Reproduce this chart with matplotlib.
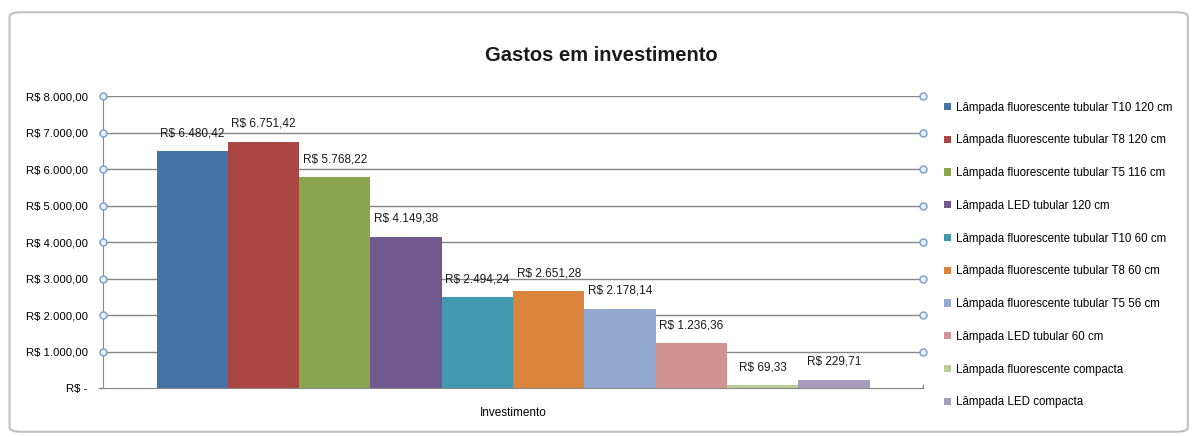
import matplotlib.pyplot as plt
from matplotlib.patches import FancyBboxPatch
import numpy as np

plt.rcParams['font.family'] = ['Liberation Sans', 'DejaVu Sans']

# dados
lampadas = ['Lâmpada fluorescente tubular T10 120 cm',
            'Lâmpada fluorescente tubular T8 120 cm',
            'Lâmpada fluorescente tubular T5 116 cm',
            'Lâmpada LED tubular 120 cm',
            'Lâmpada fluorescente tubular T10 60 cm',
            'Lâmpada fluorescente tubular T8 60 cm',
            'Lâmpada fluorescente tubular T5 56 cm',
            'Lâmpada LED tubular 60 cm',
            'Lâmpada fluorescente compacta',
            'Lâmpada LED compacta']
gastos = [6480.42, 6751.42, 5768.22, 4149.38, 2494.24,
          2651.28, 2178.14, 1236.36, 69.33, 229.71]
yticks = [0, 1000, 2000, 3000, 4000, 5000, 6000, 7000, 8000]
categoria = 'Investimento'

cores = ['#4572A7', '#AA4643', '#89A54E', '#71588F', '#4198AF',
         '#DB843D', '#93A9CF', '#D19392', '#B9CD96', '#A99BBD']


def brl(v):
    # formato R$ 1.234,56
    if v == 0:
        return 'R$ -'
    s = '{:,.2f}'.format(v)
    s = s.replace(',', 'X').replace('.', ',').replace('X', '.')
    return 'R$ ' + s


fig = plt.figure(figsize=(11.95, 4.37), dpi=100)

# moldura do gráfico (estilo Excel)
moldura = FancyBboxPatch((0.008, 0.012), 0.986, 0.96,
                         boxstyle='round,pad=0,rounding_size=0.01',
                         transform=fig.transFigure, facecolor='white',
                         edgecolor='#BFBFBF', linewidth=1.5, zorder=-5)
fig.patches.append(moldura)

ax = fig.add_axes([0.0862, 0.1121, 0.6862, 0.6682])
ax.set_facecolor('none')

n = len(gastos)
largura = 0.8695 / n
pos = -0.8695 / 2 + largura * (np.arange(n) + 0.5)

barras = ax.bar(pos, gastos, width=largura, color=cores, label=lampadas, zorder=3)

for p, v in zip(pos, gastos):
    ax.text(p, v + 320, brl(v), ha='center', va='bottom',
            fontsize=8.5, color='#1a1a1a', zorder=4)

ax.set_xlim(-0.5, 0.5)
ax.set_ylim(0, 8000)
ax.set_yticks(yticks)
ax.set_yticklabels([brl(t) for t in yticks], fontsize=8.2)
ax.set_xticks([0])
ax.set_xticklabels([categoria], fontsize=8.5)
ax.tick_params(axis='x', length=0, pad=14)
ax.tick_params(axis='y', length=0, pad=11)

# linhas de grade com marcadores nas extremidades
for t in yticks[1:]:
    ax.axhline(t, color='#868686', linewidth=1, zorder=1)
    ax.plot([-0.5, 0.5], [t, t], linestyle='none', marker='o', markersize=5,
            markerfacecolor='#EAF0F8', markeredgecolor='#7FA3CF',
            markeredgewidth=1.1, clip_on=False, zorder=5)

for lado in ['top', 'right']:
    ax.spines[lado].set_visible(False)
ax.spines['left'].set_color('#868686')
ax.spines['bottom'].set_color('#868686')
ax.plot([-0.5, -0.505], [0, 0], color='#868686', lw=1, clip_on=False)
ax.plot([0.5, 0.5], [0, 70], color='#868686', lw=1, clip_on=False)

fig.text(0.503, 0.872, 'Gastos em investimento', ha='center', va='center',
         fontsize=14.5, fontweight='bold', color='#1a1a1a')

leg = fig.legend(handles=barras, labels=lampadas, loc='upper left',
                 bbox_to_anchor=(0.7865, 0.778), frameon=False, fontsize=8.3,
                 handlelength=0.6, handleheight=0.6, handletextpad=0.4,
                 labelspacing=1.8, borderaxespad=0)

fig.savefig('out.png', dpi=100)
